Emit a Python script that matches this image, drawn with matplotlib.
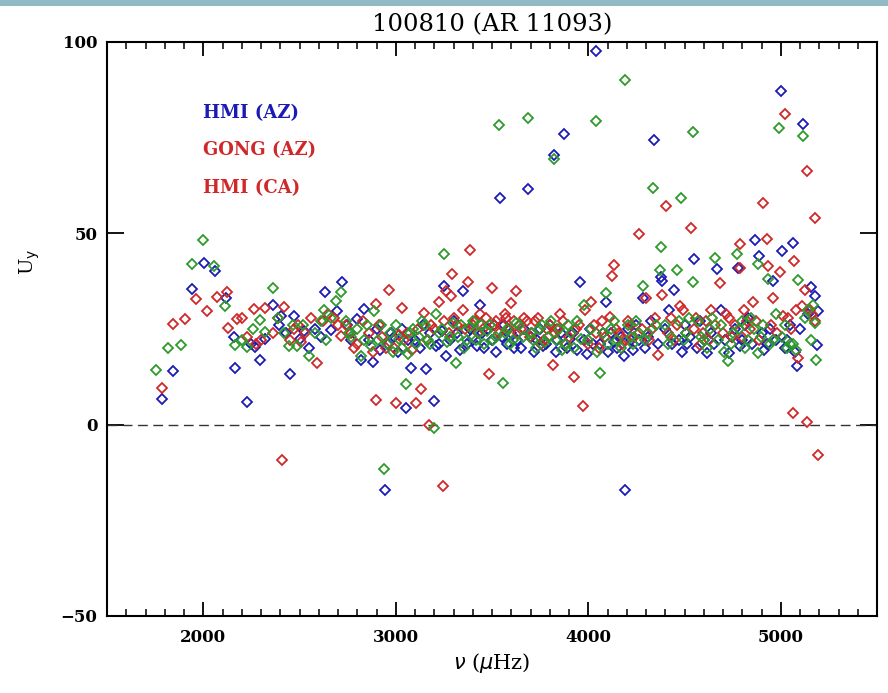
import matplotlib
matplotlib.use("Agg")
import matplotlib.pyplot as plt
from matplotlib.patches import Rectangle
from matplotlib.ticker import MultipleLocator

# Flow velocity component U_y versus mode frequency, three pipelines
hmi_az_freq = [1788, 1845, 1944, 2002, 2062, 2120, 2161, 2163, 2227, 2250, 2271, 2297, 2323, 2363, 2391, 2403,
               2430, 2449, 2470, 2500, 2525, 2549, 2580, 2610, 2635, 2664, 2693, 2719, 2745, 2770, 2800, 2820,
               2835, 2860, 2880, 2900, 2920, 2944, 2960, 2975, 2990, 3010, 3030, 3053, 3065, 3078, 3100, 3125,
               3140, 3156, 3180, 3200, 3210, 3225, 3240, 3252, 3260, 3280, 3300, 3320, 3335, 3347, 3370, 3385,
               3400, 3420, 3439, 3450, 3460, 3480, 3500, 3510, 3520, 3542, 3550, 3560, 3580, 3600, 3615, 3630,
               3650, 3665, 3686, 3700, 3720, 3735, 3750, 3765, 3780, 3800, 3821, 3830, 3840, 3860, 3874, 3890,
               3905, 3920, 3940, 3958, 3980, 3995, 4010, 4025, 4042, 4060, 4075, 4094, 4105, 4120, 4135, 4150,
               4170, 4187, 4193, 4205, 4220, 4235, 4250, 4265, 4284, 4295, 4310, 4325, 4342, 4360, 4380, 4385,
               4400, 4420, 4435, 4448, 4470, 4485, 4500, 4515, 4530, 4550, 4565, 4580, 4600, 4615, 4640, 4655,
               4667, 4690, 4710, 4730, 4745, 4760, 4776, 4790, 4800, 4815, 4830, 4850, 4865, 4887, 4900, 4915,
               4930, 4945, 4958, 4975, 4999, 5008, 5020, 5030, 5050, 5066, 5075, 5083, 5100, 5118, 5140, 5158,
               5176, 5187, 5191]
hmi_az_uy = [6.7, 14.1, 35.5, 42.3, 40.1, 33.2, 23.0, 14.8, 5.8, 21.0, 20.2, 17.0, 22.4, 31.4, 26.0, 28.5,
             24.0, 13.3, 28.3, 22.5, 24.5, 20.1, 25.0, 23.0, 34.6, 24.7, 29.7, 37.3, 26.0, 22.0, 27.5, 17.0,
             30.3, 22.0, 16.5, 25.0, 19.5, -17.2, 21.0, 24.0, 23.0, 19.0, 25.0, 4.4, 22.0, 14.7, 22.0, 20.0,
             26.0, 14.6, 24.0, 6.1, 20.5, 21.0, 24.5, 36.2, 18.0, 22.0, 27.0, 24.0, 19.5, 34.9, 21.0, 25.0,
             23.0, 20.5, 31.4, 24.0, 20.0, 25.0, 22.0, 26.0, 19.0, 59.3, 23.0, 26.0, 21.0, 24.0, 20.0, 22.0,
             20.0, 25.0, 61.5, 23.0, 19.0, 22.0, 25.0, 20.5, 21.0, 26.0, 70.4, 19.0, 22.0, 24.0, 75.9, 20.0,
             22.5, 24.0, 19.5, 37.3, 22.0, 18.5, 25.0, 21.0, 97.7, 21.0, 24.0, 32.1, 19.0, 24.0, 21.5, 20.0,
             23.0, 18.0, -17.0, 25.0, 22.0, 19.5, 26.0, 22.0, 33.0, 20.0, 23.0, 27.0, 74.4, 21.0, 38.5, 37.5,
             25.0, 30.0, 21.0, 35.1, 22.0, 19.0, 26.0, 21.0, 23.0, 43.4, 20.0, 27.0, 22.0, 18.8, 24.0, 21.0,
             40.8, 30.0, 22.0, 18.8, 23.0, 25.0, 40.9, 20.5, 22.0, 26.0, 28.0, 21.0, 48.2, 44.0, 24.0, 19.5,
             21.0, 25.0, 37.5, 22.0, 87.1, 45.4, 20.0, 22.0, 26.0, 47.6, 19.0, 15.3, 25.0, 78.7, 29.0, 36.0,
             33.6, 20.7, 29.7]

gong_az_freq = [1785, 1845, 1903, 1961, 2019, 2071, 2123, 2126, 2177, 2200, 2227, 2262, 2276, 2300, 2323, 2360,
                2390, 2409, 2418, 2450, 2470, 2490, 2510, 2530, 2560, 2592, 2620, 2650, 2680, 2700, 2714, 2740,
                2770, 2785, 2800, 2830, 2860, 2880, 2896, 2897, 2915, 2930, 2950, 2965, 2990, 3003, 3015, 3031,
                3045, 3060, 3085, 3104, 3115, 3133, 3148, 3160, 3173, 3185, 3200, 3226, 3244, 3250, 3263, 3275,
                3286, 3292, 3305, 3320, 3347, 3360, 3377, 3387, 3400, 3410, 3425, 3440, 3455, 3470, 3485, 3498,
                3510, 3520, 3535, 3550, 3565, 3575, 3590, 3600, 3615, 3625, 3635, 3650, 3665, 3680, 3695, 3710,
                3725, 3740, 3755, 3770, 3785, 3800, 3816, 3825, 3840, 3855, 3870, 3885, 3900, 3924, 3935, 3950,
                3972, 3985, 4000, 4016, 4030, 4040, 4055, 4070, 4085, 4111, 4123, 4133, 4145, 4160, 4175, 4190,
                4205, 4220, 4240, 4266, 4280, 4300, 4315, 4330, 4345, 4362, 4385, 4406, 4415, 4430, 4445, 4460,
                4475, 4490, 4510, 4536, 4550, 4560, 4580, 4595, 4610, 4625, 4640, 4660, 4684, 4700, 4715, 4730,
                4745, 4760, 4786, 4788, 4800, 4810, 4825, 4840, 4855, 4870, 4885, 4906, 4927, 4936, 4950, 4960,
                4980, 4996, 5010, 5022, 5040, 5055, 5066, 5069, 5080, 5092, 5110, 5125, 5135, 5136, 5150, 5160,
                5178, 5180, 5193]
gong_az_uy = [9.6, 26.4, 27.5, 32.8, 29.8, 33.4, 34.6, 25.3, 27.5, 27.8, 23.0, 30.3, 21.2, 22.0, 30.5, 24.0,
              28.0, -9.2, 30.8, 22.0, 25.0, 26.0, 21.5, 24.0, 28.0, 16.1, 27.0, 29.0, 28.0, 26.0, 23.3, 26.0,
              24.0, 20.0, 21.0, 27.0, 24.0, 19.0, 31.6, 6.5, 26.0, 23.0, 20.0, 35.3, 20.0, 5.7, 23.5, 30.4,
              22.0, 24.0, 19.5, 5.7, 25.0, 9.3, 29.3, 22.0, 0.0, 26.0, 25.0, 32.0, -15.9, 27.0, 35.0, 24.0,
              33.6, 39.3, 28.0, 26.0, 30.0, 25.0, 37.3, 45.6, 26.0, 27.0, 24.0, 29.0, 25.0, 28.0, 13.3, 35.8,
              26.0, 27.0, 24.0, 26.0, 29.0, 28.0, 25.0, 31.9, 27.0, 34.9, 24.0, 25.0, 28.0, 27.0, 23.0, 24.0,
              27.0, 28.0, 21.0, 22.0, 25.0, 26.0, 15.7, 24.0, 25.0, 29.0, 27.0, 21.0, 23.0, 12.5, 25.0, 26.0,
              4.8, 30.0, 21.0, 32.1, 26.0, 24.0, 20.0, 27.0, 23.0, 28.1, 38.8, 41.6, 25.0, 24.0, 21.0, 22.0,
              27.0, 26.0, 23.0, 49.7, 25.0, 33.2, 22.0, 25.0, 28.0, 18.3, 34.0, 57.1, 24.0, 28.0, 22.0, 26.0,
              31.0, 30.0, 24.0, 51.5, 25.0, 28.0, 20.8, 24.0, 27.0, 22.0, 30.0, 26.0, 37.0, 24.0, 29.0, 28.0,
              23.0, 26.0, 40.9, 47.1, 23.0, 30.0, 27.0, 25.0, 32.0, 27.0, 22.0, 58.0, 48.4, 41.4, 26.0, 33.0,
              24.0, 40.0, 28.5, 81.3, 28.0, 25.0, 3.1, 42.9, 30.0, 17.5, 31.0, 35.3, 66.3, 0.7, 30.0, 29.0,
              53.9, 27.0, -7.9]

hmi_ca_freq = [1753, 1819, 1883, 1941, 1998, 2057, 2115, 2167, 2200, 2227, 2260, 2297, 2323, 2363, 2390, 2422,
               2444, 2465, 2488, 2520, 2549, 2580, 2610, 2625, 2640, 2664, 2692, 2714, 2740, 2755, 2770, 2800,
               2817, 2835, 2850, 2870, 2887, 2910, 2925, 2939, 2955, 2970, 2985, 3000, 3015, 3030, 3052, 3062,
               3075, 3090, 3105, 3120, 3135, 3150, 3165, 3180, 3200, 3211, 3225, 3240, 3252, 3265, 3280, 3295,
               3312, 3325, 3340, 3355, 3370, 3385, 3400, 3415, 3430, 3445, 3460, 3475, 3490, 3505, 3520, 3538,
               3555, 3565, 3580, 3595, 3610, 3625, 3640, 3660, 3686, 3700, 3715, 3730, 3745, 3760, 3775, 3790,
               3805, 3821, 3835, 3850, 3865, 3880, 3895, 3910, 3925, 3940, 3960, 3978, 4000, 4015, 4038, 4045,
               4059, 4075, 4094, 4105, 4120, 4135, 4150, 4170, 4193, 4205, 4220, 4235, 4250, 4265, 4284, 4295,
               4310, 4336, 4350, 4375, 4380, 4400, 4415, 4430, 4461, 4470, 4480, 4495, 4510, 4525, 4545, 4546,
               4570, 4585, 4600, 4615, 4630, 4645, 4661, 4675, 4690, 4705, 4727, 4740, 4750, 4771, 4785, 4800,
               4815, 4830, 4845, 4860, 4880, 4881, 4895, 4910, 4932, 4945, 4960, 4975, 4993, 5005, 5020, 5035,
               5050, 5066, 5080, 5092, 5115, 5125, 5140, 5155, 5170, 5178, 5182]
hmi_ca_uy = [14.4, 20.1, 20.7, 41.9, 48.2, 41.4, 31.0, 20.8, 22.0, 20.2, 25.0, 27.3, 24.2, 35.8, 28.0, 24.0,
             20.5, 26.0, 20.5, 26.0, 17.9, 24.0, 27.0, 30.0, 22.0, 28.0, 32.3, 34.6, 27.0, 24.0, 23.0, 25.0,
             18.0, 22.0, 26.0, 20.5, 29.7, 22.0, 26.0, -11.6, 21.0, 24.0, 19.0, 26.0, 22.5, 20.0, 10.7, 18.4,
             24.0, 25.0, 21.0, 23.0, 27.0, 26.0, 22.0, 21.0, -1.0, 28.8, 24.0, 25.0, 44.5, 21.5, 23.0, 26.5,
             16.0, 23.0, 26.0, 20.0, 22.0, 25.5, 27.0, 22.0, 24.0, 26.0, 21.0, 24.5, 26.0, 22.0, 23.0, 78.3,
             10.9, 24.0, 25.0, 21.0, 22.0, 26.5, 26.0, 23.0, 80.1, 24.0, 22.0, 20.0, 25.0, 26.0, 21.5, 23.0,
             27.0, 69.4, 22.0, 25.0, 19.5, 21.0, 26.0, 24.0, 20.0, 27.0, 22.5, 31.4, 22.0, 25.0, 79.4, 19.0,
             13.5, 24.0, 34.5, 21.0, 25.0, 27.0, 22.0, 20.0, 90.1, 26.0, 23.0, 21.0, 27.0, 24.0, 36.2, 22.0,
             24.0, 61.8, 26.0, 40.3, 46.4, 26.0, 21.0, 23.0, 40.3, 27.0, 59.2, 22.0, 24.0, 28.0, 76.6, 37.3,
             27.0, 23.0, 22.0, 20.0, 25.0, 28.0, 43.6, 22.0, 26.0, 19.0, 16.6, 21.0, 24.0, 44.7, 25.0, 27.0,
             20.0, 22.0, 28.0, 25.0, 42.1, 18.6, 23.0, 26.0, 38.0, 21.0, 22.0, 29.0, 77.5, 23.0, 26.0, 20.0,
             21.0, 21.0, 19.5, 37.7, 75.5, 28.0, 30.0, 22.0, 31.4, 26.5, 17.0]

series_labels = ["HMI (AZ)", "GONG (AZ)", "HMI (CA)"]
marker_colors = ["#1a1ab4", "#d02828", "#2e9a2e"]
label_colors = ["#1a1ab4", "#d02828", "#d02828"]

x_ticks = [2000, 3000, 4000, 5000]
y_ticks = [-50, 0, 50, 100]
y_tick_labels = ["\u221250", "0", "50", "100"]

serif = "DejaVu Serif"

fig = plt.figure(figsize=(8.88, 6.93), dpi=100)
fig.patch.set_facecolor("white")
# thin slate band along the top edge of the figure
fig.add_artist(Rectangle((0, 1 - 6 / 693), 1, 6 / 693, transform=fig.transFigure,
                         facecolor="#93b9c4", edgecolor="none", zorder=0))

ax = fig.add_axes([107 / 888, 77 / 693, 770 / 888, 574 / 693])

for fx, uy, col in zip([hmi_az_freq, gong_az_freq, hmi_ca_freq],
                       [hmi_az_uy, gong_az_uy, hmi_ca_uy], marker_colors):
    ax.plot(fx, uy, linestyle="none", marker="D", markersize=4.7,
            markerfacecolor="none", markeredgecolor=col, markeredgewidth=1.3, zorder=3)

ax.axhline(0, color="#333333", linestyle=(0, (7, 4)), linewidth=1.0, zorder=2)

ax.set_xlim(1500, 5500)
ax.set_ylim(-50, 100)
ax.xaxis.set_minor_locator(MultipleLocator(100))
ax.set_xticks(x_ticks)
ax.set_xticklabels([str(v) for v in x_ticks])
ax.set_yticks(y_ticks)
ax.set_yticklabels(y_tick_labels)
ax.tick_params(axis="x", which="major", direction="in", length=10, width=1.3, top=True, pad=9)
ax.tick_params(axis="x", which="minor", direction="in", length=5, width=1.1, top=True)
ax.tick_params(axis="y", which="major", direction="in", length=12, width=1.3, right=True, pad=7)
for lab in ax.get_xticklabels() + ax.get_yticklabels():
    lab.set_fontfamily(serif)
    lab.set_fontsize(12)
    lab.set_fontweight("bold")

for sp in ax.spines.values():
    sp.set_linewidth(1.5)

ax.set_title("100810 (AR 11093)", fontfamily=serif, fontsize=17.5, pad=8)
ax.set_xlabel(r"$\nu$ ($\mu$Hz)", fontfamily=serif, fontsize=15, labelpad=4)
ax.set_ylabel(r"U$_{\rm y}$", fontfamily=serif, fontsize=14)
ax.yaxis.set_label_coords(-0.085, 0.617)

for i, (lab, col) in enumerate(zip(series_labels, label_colors)):
    ax.text(0.1247, 0.876 - i * 0.065, lab, transform=ax.transAxes, color=col,
            fontfamily=serif, fontsize=13, fontweight="bold", va="center", ha="left")

fig.savefig("out.png", dpi=100)
